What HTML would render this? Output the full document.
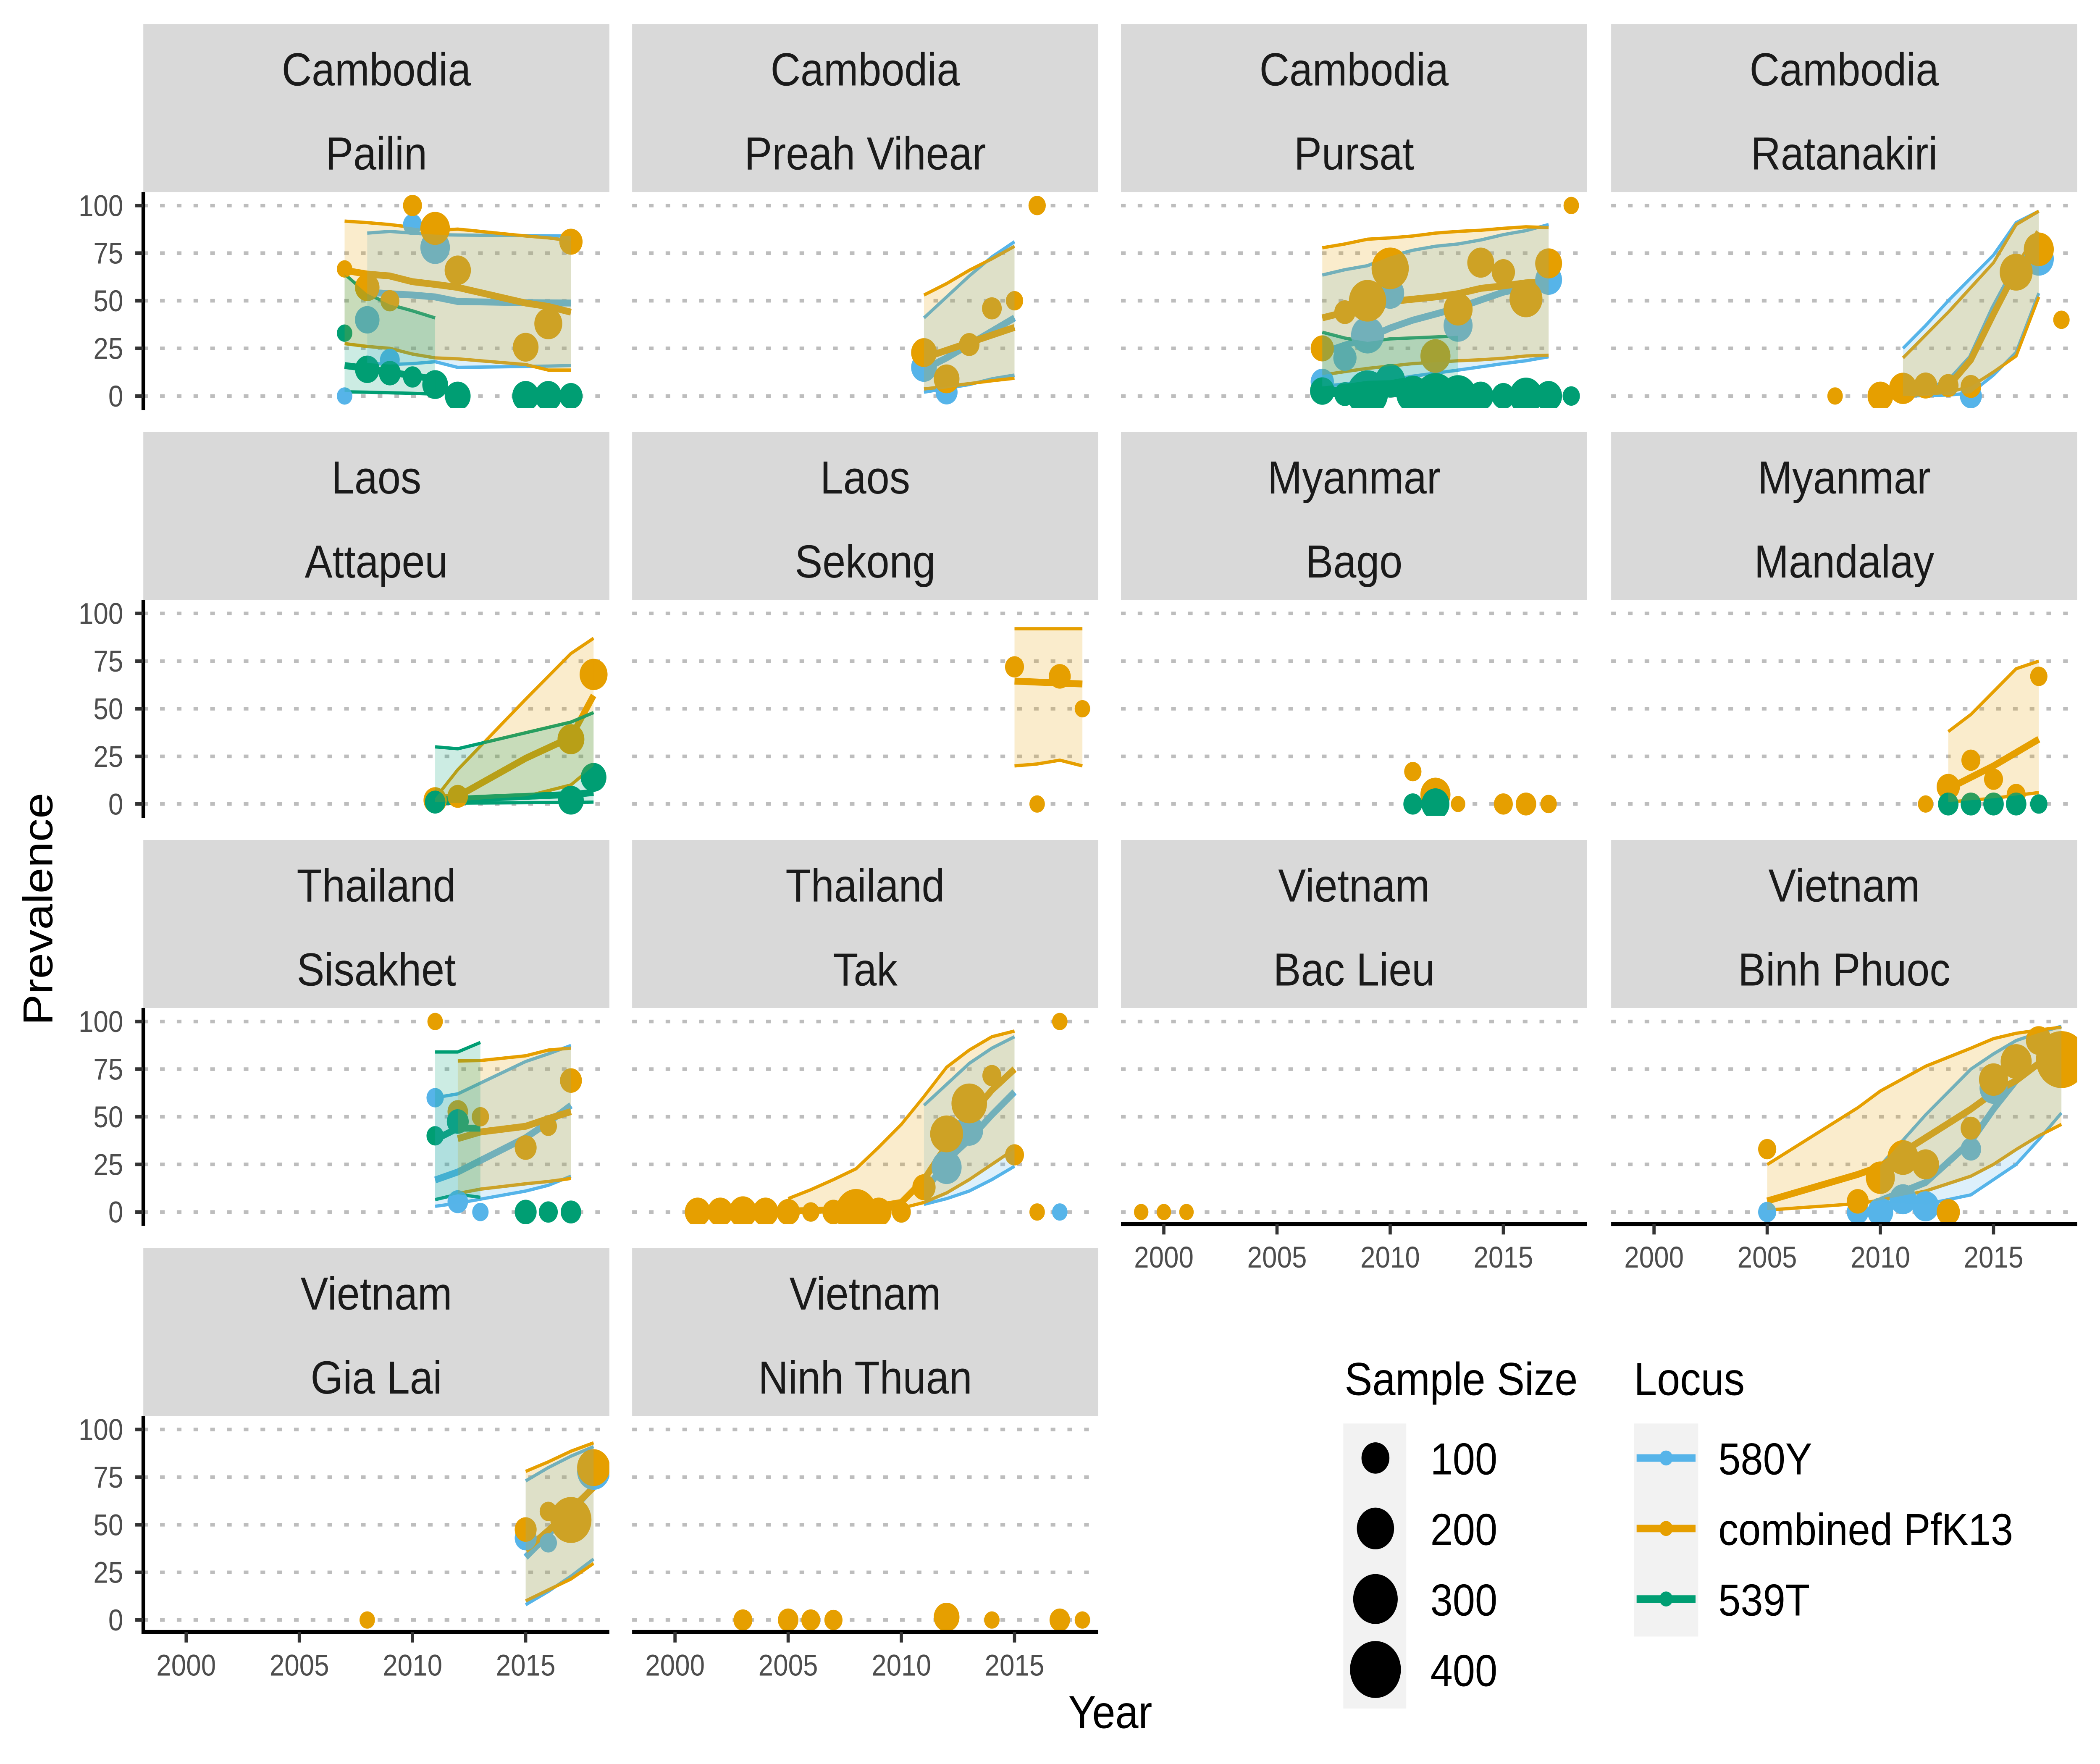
<!DOCTYPE html>
<html><head><meta charset="utf-8"><style>
html,body{margin:0;padding:0;background:#fff;width:100%;height:100%;overflow:hidden;}
svg{display:block;width:100vw;height:100vh;font-family:"Liberation Sans",Arial,sans-serif;}
</style></head><body>
<svg id="chart" viewBox="0 0 1568 1176" preserveAspectRatio="none" xmlns="http://www.w3.org/2000/svg">
<rect x="0" y="0" width="1568" height="1176" fill="#fff"/>
<g id="panels"></g>
<text transform="translate(39,606) rotate(-90)" text-anchor="middle" font-size="31" fill="#000">Prevalence</text>
<text x="829" y="1152" text-anchor="middle" font-size="31" fill="#000">Year</text>
<g id="sizeLegend">
<text x="1004" y="930" font-size="31" fill="#000">Sample Size</text>
<rect x="1003" y="949" width="47" height="190" fill="#f2f2f2"/>
</g>
<g id="locusLegend">
<text x="1220" y="930" font-size="31" fill="#000">Locus</text>
<rect x="1220" y="949" width="48" height="142" fill="#f2f2f2"/>
</g>
</svg>
<script>
// ---------- data ----------
const legendSizes = [100, 200, 300, 400];
const locusNames = ['580Y', 'combined PfK13', '539T'];
const locusCodes = ['B', 'O', 'G'];
const yTicks = [0, 25, 50, 75, 100];
const xTicks = [2000, 2005, 2010, 2015];

// Pailin
const pailinLocus = ['O','B','G','O','B','G','O','B','G','B','O','G','B','O','G','O','G','O','G','O','G','O','G'];
const pailinYear  = [2007,2007,2007,2008,2008,2008,2009,2009,2009,2010,2010,2010,2011,2011,2011,2012,2012,2015,2015,2016,2016,2017,2017];
const pailinPrev  = [66.7,0,33,57,40,14,50,19,12,90,100,10,78,88,6,66,0,25.6,0,38,0,81,0];
const pailinN     = [10,10,10,70,70,70,30,35,50,30,30,30,115,115,80,85,80,80,90,100,90,60,60];
const pailinB_year = [2008,2009,2010,2011,2012,2015,2016,2017];
const pailinB_mid = [54.5,53.7,53,52,49.6,49,48.9,48.8];
const pailinB_hi = [85.5,86.4,85.5,84.7,84.5,84.2,84.1,84];
const pailinB_lo = [17.3,16.5,17,18,15,15.5,15.7,16];
const pailinO_year = [2007,2008,2009,2010,2011,2012,2015,2016,2017];
const pailinO_mid = [66,64,63,60,58.6,57,48.8,47,44];
const pailinO_hi = [91.8,91,90,88.5,87,87.6,84,83,81.5];
const pailinO_lo = [27.5,26,25,22,20,19.5,16.5,13.6,13.6];
const pailinG_year = [2007,2008,2009,2010,2011];
const pailinG_mid = [16,14.5,12.4,10.8,8.7];
const pailinG_hi = [64,53.7,48,44.7,41];
const pailinG_lo = [2.2,2,1.7,1.4,1];

// Preah Vihear
const preahLocus = ['B','B','O','O','O','O','O','O'];
const preahYear  = [2011,2012,2011,2012,2013,2014,2015,2016];
const preahPrev  = [15,2,22.8,9,27,46,50,100];
const preahN     = [80,50,80,80,40,35,20,20];
const preahB_year = [2011,2012,2013,2014,2015];
const preahB_mid = [14,20,27,34,41];
const preahB_hi = [41,52,63,73,81];
const preahB_lo = [2,4,6,9,11];
const preahO_year = [2011,2012,2013,2014,2015];
const preahO_mid = [20,24,28,32,36];
const preahO_hi = [53,59,66,72,78.6];
const preahO_lo = [3.7,5,6.5,8,9.3];

// Pursat
const pursatLocus = ['B','B','B','B','B','B','O','O','O','O','O','O','O','O','O','O','O','G','G','G','G','G','G','G','G','G','G','G','G'];
const pursatYear  = [2007,2008,2009,2010,2013,2017,2007,2008,2009,2010,2012,2013,2014,2015,2016,2017,2018,2007,2008,2009,2010,2011,2012,2013,2014,2015,2016,2017,2018];
const pursatPrev  = [7.5,20,32,54,37,61,25,44,50,67,21,45.5,70,65,51,69.6,100,2.6,1,1.4,8,1,0,0,0,0,0,0,0];
const pursatN     = [60,60,150,100,110,90,60,45,200,200,120,110,90,60,150,90,10,70,45,250,120,150,250,200,80,60,150,90,20];
const pursatB_year = [2007,2008,2009,2010,2011,2012,2013,2014,2015,2016,2017];
const pursatB_mid = [22.6,26.7,30.4,35.7,39.8,43,46.3,50.4,54.5,57,60.2];
const pursatB_hi = [63.5,66.3,68.4,73.3,76.5,78.6,79.8,81.9,84.7,86.8,90];
const pursatB_lo = [5,6.3,8,8.3,10.4,12,13.6,15.3,17,18.5,20.6];
const pursatO_year = [2007,2008,2009,2010,2011,2012,2013,2014,2015,2016,2017];
const pursatO_mid = [41,44,46,49.6,50.8,52,53.7,56.5,57.8,59.4,60];
const pursatO_hi = [77.8,79.8,82.3,83,84,85.5,86.4,87,88,88.8,88.4];
const pursatO_lo = [11,12.8,14.5,15.7,17,17.7,18.5,19,19.8,21,21.4];
const pursatG_year = [2007,2008,2009,2010,2011,2012,2013];
const pursatG_mid = [3,2.8,2.6,2.5,2.4,2.3,2.2];
const pursatG_hi = [33.5,30.4,28.4,30,30.5,31,31.6];
const pursatG_lo = [0.3,0.3,0.3,0.3,0.3,0.3,0.3];

// Ratanakiri
const ratanLocus = ['B','B','O','O','O','O','O','O','O','O','O'];
const ratanYear  = [2014,2017,2008,2010,2011,2012,2013,2014,2016,2017,2018];
const ratanPrev  = [0,72,0,0,4,5.5,5.5,5,65,77,40];
const ratanN     = [50,120,10,80,100,60,40,40,150,120,15];
const ratanB_year = [2011,2012,2013,2014,2015,2016,2017];
const ratanB_mid = [1.5,3,7,20,46,68,82];
const ratanB_hi = [25,37,50,62,74,91,97];
const ratanB_lo = [0,0.2,0.5,1.5,11,23,54];
const ratanO_year = [2011,2012,2013,2014,2015,2016,2017];
const ratanO_mid = [1.5,3,5,19,43,66,86];
const ratanO_hi = [20,32,44,57,70,90,97];
const ratanO_lo = [0,1,2,5,12.6,21,52];

// Attapeu
const attaLocus = ['O','O','O','O','G','G','G'];
const attaYear  = [2011,2012,2017,2018,2011,2017,2018];
const attaPrev  = [2,4,34,68,1,2,14];
const attaN     = [60,40,90,100,40,80,80];
const attaO_year = [2011,2012,2015,2017,2018];
const attaO_mid = [3,4,24,35,57];
const attaO_hi = [3,18,55,79,87];
const attaO_lo = [1,1.5,4,10,20];
const attaG_year = [2011,2012,2017,2018];
const attaG_mid = [2,2.5,5,6];
const attaG_hi = [30,29,43,48];
const attaG_lo = [0.5,0.5,0.8,1];

// Sekong
const sekLocus = ['O','O','O','O'];
const sekYear  = [2015,2016,2017,2018];
const sekPrev  = [72,0,67,50];
const sekN     = [30,10,50,10];
const sekO_year = [2015,2016,2017,2018];
const sekO_mid = [64.5,64,63.5,63];
const sekO_hi = [92,92,92,92];
const sekO_lo = [20,21,23,20];

// Bago
const bagoLocus = ['O','O','O','O','O','O','G','G'];
const bagoYear  = [2011,2012,2013,2015,2016,2017,2011,2012];
const bagoPrev  = [17,5,0,0,0,0,0,0];
const bagoN     = [20,120,5,30,40,15,30,100];

// Mandalay
const mandLocus = ['O','O','O','O','O','O','G','G','G','G','G'];
const mandYear  = [2012,2013,2014,2015,2016,2017,2013,2014,2015,2016,2017];
const mandPrev  = [0,9,23,13,5,67,0,0,0,0,0];
const mandN     = [10,60,30,30,30,20,40,40,40,40,20];
const mandO_year = [2013,2014,2015,2016,2017];
const mandO_mid = [8,14,20,27,34];
const mandO_hi = [38,47,59,71,75];
const mandO_lo = [1,2,3,4.5,6];

// Sisakhet
const sisaLocus = ['B','B','B','O','O','O','O','O','O','G','G','G','G','G'];
const sisaYear  = [2011,2012,2013,2011,2012,2013,2015,2016,2017,2011,2012,2015,2016,2017];
const sisaPrev  = [60,5.4,0,100,52.7,50,33.8,45,69,40,47.5,0,0,0];
const sisaN     = [20,40,15,10,40,20,50,20,50,20,50,50,30,40];
const sisaB_year = [2011,2012,2015,2016,2017];
const sisaB_mid = [16.8,21,39,47,56];
const sisaB_hi = [60,62,79,83,87.4];
const sisaB_lo = [3,4.6,11,14,18.8];
const sisaO_year = [2012,2013,2015,2016,2017];
const sisaO_mid = [38.5,42,45,49,52.7];
const sisaO_hi = [79.3,79.5,82,85,86];
const sisaO_lo = [9.7,12,14.8,16,17.6];
const sisaG_year = [2011,2012,2013];
const sisaG_mid = [38,44,44];
const sisaG_hi = [84,84,89];
const sisaG_lo = [6.5,9.3,7.7];

// Tak
const takLocus = ['B','B','B','B','B','B','B','B','B','B','B','B','B','O','O','O','O','O','O','O','O','O','O','O','O','O','O','O','O','O'];
const takYear  = [2001,2002,2003,2004,2005,2006,2007,2008,2009,2010,2012,2013,2017,2001,2002,2003,2004,2005,2006,2007,2008,2009,2010,2011,2012,2013,2014,2015,2016,2017];
const takPrev  = [0,0,0,0,0,0,0,0,0,0,23.5,43,0,0,0,0,0,0,0,0,0,0,0,13,41,57,71.6,30,0,100];
const takN     = [60,60,60,60,60,20,50,200,60,30,120,100,10,80,80,100,80,60,20,50,250,80,30,60,150,180,30,30,10,10];
const takB_year = [2011,2012,2013,2014,2015];
const takB_mid = [10,27,38,51,63];
const takB_hi = [56,67,78,86,92];
const takB_lo = [4,7,11,17,24];
const takO_year = [2005,2006,2007,2008,2009,2010,2011,2012,2013,2014,2015];
const takO_mid = [0.5,0.8,1.2,2,3,5,17,35,50,64,75];
const takO_hi = [7,11.7,17,22.7,34,46,60.6,76,85,92,95];
const takO_lo = [0,0,0,0.5,1,2,5,10,17,25,33];

// Bac Lieu
const bacLocus = ['O','O','O'];
const bacYear  = [1999,2000,2001];
const bacPrev  = [0,0,0];
const bacN     = [5,5,5];

// Binh Phuoc
const binhLocus = ['B','B','B','B','B','B','B','O','O','O','O','O','O','O','O','O','O','O'];
const binhYear  = [2005,2009,2010,2011,2012,2014,2015,2005,2009,2010,2011,2012,2013,2014,2015,2016,2017,2018];
const binhPrev  = [0,0,0,6.7,3,33,65,33,5.6,18,28.6,25,0,44,69.5,79,90,80];
const binhN     = [25,50,80,90,90,40,100,25,50,110,130,90,60,40,110,130,80,400];
const binhB_year = [2010,2012,2014,2015,2016,2017,2018];
const binhB_mid = [6,15.5,37,54,69,78,86];
const binhB_hi = [24.4,51,75,83,90,94,97.5];
const binhB_lo = [5,4,9,17,25,38,52];
const binhO_year = [2005,2009,2010,2012,2014,2015,2016,2017,2018];
const binhO_mid = [5.8,19.7,24,39,54,62.6,69,78,84];
const binhO_hi = [24.9,54.7,63.5,76.5,86,91,93.8,95.5,97];
const binhO_lo = [1,4.4,6.2,11,18.8,25,32.8,40,46];

// Gia Lai
const giaLocus = ['B','B','B','O','O','O','O','O'];
const giaYear  = [2015,2016,2018,2008,2015,2016,2017,2018];
const giaPrev  = [43,40.5,78,0,47.5,57,52.5,80];
const giaN     = [50,20,150,10,50,20,250,150];
const giaB_year = [2015,2016,2017,2018];
const giaB_mid = [33,45,57,70];
const giaB_hi = [73,80,86,91];
const giaB_lo = [8,15,23,32];
const giaO_year = [2015,2016,2017,2018];
const giaO_mid = [36.7,47,58,69.6];
const giaO_hi = [78,83,88.6,93];
const giaO_lo = [10,15.8,21.5,29.7];

// Ninh Thuan
const ninhLocus = ['O','O','O','O','O','O','O','O'];
const ninhYear  = [2003,2005,2006,2007,2012,2014,2017,2018];
const ninhPrev  = [0,0,0,0,1.5,0,0,0];
const ninhN     = [30,40,30,25,80,10,40,10];

// ---------- layout ----------
const COLORS = {B:'#56B4E9', O:'#E69F00', G:'#009E73'};
const colLeft = [107, 472, 837, 1203];
const PW = 348;
const PX0 = 32, PXY = 16.9, PVY = 1.27;
function xScale(left, yr){ return left + PX0 + (yr - 2000) * PXY; }
function yScale(y0, v){ return y0 - v * PVY; }
function rScale(n){ return Math.sqrt(25 + 0.84 * n); }

function mkFit(year, mid, lo, hi){ return {year, mid, lo, hi}; }
const panels = [
 {c:'Cambodia', r:'Pailin', col:0, row:0, slug:'pailin', pts:[pailinLocus,pailinYear,pailinPrev,pailinN],
  fits:{B:mkFit(pailinB_year,pailinB_mid,pailinB_lo,pailinB_hi),O:mkFit(pailinO_year,pailinO_mid,pailinO_lo,pailinO_hi),G:mkFit(pailinG_year,pailinG_mid,pailinG_lo,pailinG_hi)}},
 {c:'Cambodia', r:'Preah Vihear', col:1, row:0, slug:'preah-vihear', pts:[preahLocus,preahYear,preahPrev,preahN],
  fits:{B:mkFit(preahB_year,preahB_mid,preahB_lo,preahB_hi),O:mkFit(preahO_year,preahO_mid,preahO_lo,preahO_hi)}},
 {c:'Cambodia', r:'Pursat', col:2, row:0, slug:'pursat', pts:[pursatLocus,pursatYear,pursatPrev,pursatN],
  fits:{B:mkFit(pursatB_year,pursatB_mid,pursatB_lo,pursatB_hi),O:mkFit(pursatO_year,pursatO_mid,pursatO_lo,pursatO_hi),G:mkFit(pursatG_year,pursatG_mid,pursatG_lo,pursatG_hi)}},
 {c:'Cambodia', r:'Ratanakiri', col:3, row:0, slug:'ratanakiri', pts:[ratanLocus,ratanYear,ratanPrev,ratanN],
  fits:{B:mkFit(ratanB_year,ratanB_mid,ratanB_lo,ratanB_hi),O:mkFit(ratanO_year,ratanO_mid,ratanO_lo,ratanO_hi)}},
 {c:'Laos', r:'Attapeu', col:0, row:1, slug:'attapeu', pts:[attaLocus,attaYear,attaPrev,attaN],
  fits:{O:mkFit(attaO_year,attaO_mid,attaO_lo,attaO_hi),G:mkFit(attaG_year,attaG_mid,attaG_lo,attaG_hi)}},
 {c:'Laos', r:'Sekong', col:1, row:1, slug:'sekong', pts:[sekLocus,sekYear,sekPrev,sekN],
  fits:{O:mkFit(sekO_year,sekO_mid,sekO_lo,sekO_hi)}},
 {c:'Myanmar', r:'Bago', col:2, row:1, slug:'bago', pts:[bagoLocus,bagoYear,bagoPrev,bagoN], fits:{}},
 {c:'Myanmar', r:'Mandalay', col:3, row:1, slug:'mandalay', pts:[mandLocus,mandYear,mandPrev,mandN],
  fits:{O:mkFit(mandO_year,mandO_mid,mandO_lo,mandO_hi)}},
 {c:'Thailand', r:'Sisakhet', col:0, row:2, slug:'sisakhet', pts:[sisaLocus,sisaYear,sisaPrev,sisaN],
  fits:{B:mkFit(sisaB_year,sisaB_mid,sisaB_lo,sisaB_hi),O:mkFit(sisaO_year,sisaO_mid,sisaO_lo,sisaO_hi),G:mkFit(sisaG_year,sisaG_mid,sisaG_lo,sisaG_hi)}},
 {c:'Thailand', r:'Tak', col:1, row:2, slug:'tak', pts:[takLocus,takYear,takPrev,takN],
  fits:{B:mkFit(takB_year,takB_mid,takB_lo,takB_hi),O:mkFit(takO_year,takO_mid,takO_lo,takO_hi)}},
 {c:'Vietnam', r:'Bac Lieu', col:2, row:2, slug:'bac-lieu', xaxis:true, pts:[bacLocus,bacYear,bacPrev,bacN], fits:{}},
 {c:'Vietnam', r:'Binh Phuoc', col:3, row:2, slug:'binh-phuoc', xaxis:true, pts:[binhLocus,binhYear,binhPrev,binhN],
  fits:{B:mkFit(binhB_year,binhB_mid,binhB_lo,binhB_hi),O:mkFit(binhO_year,binhO_mid,binhO_lo,binhO_hi)}},
 {c:'Vietnam', r:'Gia Lai', col:0, row:3, slug:'gia-lai', xaxis:true, pts:[giaLocus,giaYear,giaPrev,giaN],
  fits:{B:mkFit(giaB_year,giaB_mid,giaB_lo,giaB_hi),O:mkFit(giaO_year,giaO_mid,giaO_lo,giaO_hi)}},
 {c:'Vietnam', r:'Ninh Thuan', col:1, row:3, slug:'ninh-thuan', xaxis:true, pts:[ninhLocus,ninhYear,ninhPrev,ninhN], fits:{}}
];

const NS = 'http://www.w3.org/2000/svg';
function el(tag, attrs, parent){
  const e = document.createElementNS(NS, tag);
  for (const k in attrs) e.setAttribute(k, attrs[k]);
  if (parent) parent.appendChild(e);
  return e;
}
const root = document.getElementById('panels');
const svg = document.getElementById('chart');
const defs = el('defs', {}, svg);

panels.forEach((p, i) => {
  const left = colLeft[p.col];
  const stripTop = 16 + 272 * p.row;
  const stripBot = stripTop + 112;
  const y0 = 264 + 272 * p.row;
  const bottom = y0 + 8;
  const g = el('g', {}, root);
  
  

  const strip = el('rect', {x:left, y:stripTop, width:PW, height:112, fill:'#d9d9d9'}, g);
  
  
  const t1 = el('text', {x:left+PW/2, y:stripTop+41, 'text-anchor':'middle', 'font-size':31, fill:'#1a1a1a'}, g);
  t1.textContent = p.c;
  
  
  const t2 = el('text', {x:left+PW/2, y:stripTop+97, 'text-anchor':'middle', 'font-size':31, fill:'#1a1a1a'}, g);
  t2.textContent = p.r;
  
  

  yTicks.forEach(v => {
    const gl = el('line', {x1:left, x2:left+PW, y1:yScale(y0,v), y2:yScale(y0,v), stroke:'#bdbdbd', 'stroke-width':2.4, 'stroke-dasharray':'3.5 9'}, g);
    
    
  });

  const cp = el('clipPath', {id:'clip'+i}, defs);
  el('rect', {x:left, y:stripBot, width:PW, height:bottom-stripBot}, cp);
  const plot = el('g', {'clip-path':'url(#clip'+i+')'}, g);
  
  

  const pathOf = (yrs, vals) => yrs.map((yr,k)=> (k?'L':'M') + xScale(left,yr).toFixed(2) + ',' + yScale(y0,vals[k]).toFixed(2)).join(' ');

  locusCodes.forEach(code => {
    const f = p.fits[code]; if (!f) return;
    [['lo',2.2],['hi',2.2],['mid',4.6]].forEach(([key,w]) => {
      const ln = el('path', {d:pathOf(f.year, f[key]), fill:'none', stroke:COLORS[code], 'stroke-width':w, 'stroke-linejoin':'round'}, plot);
      
      
    });
  });

  const [L, Yr, Pv, N] = p.pts;
  locusCodes.forEach(code => {
    for (let k = 0; k < L.length; k++) {
      if (L[k] !== code) continue;
      const c = el('circle', {cx:xScale(left,Yr[k]), cy:yScale(y0,Pv[k]), r:rScale(N[k]), fill:COLORS[code]}, plot);
      
      
    }
  });

  locusCodes.forEach(code => {
    const f = p.fits[code]; if (!f) return;
    const up = f.year.map((yr,k)=> xScale(left,yr).toFixed(2)+','+yScale(y0,f.hi[k]).toFixed(2));
    const dn = f.year.map((yr,k)=> xScale(left,yr).toFixed(2)+','+yScale(y0,f.lo[k]).toFixed(2)).reverse();
    const rb = el('polygon', {points: up.concat(dn).join(' '), fill:COLORS[code], 'fill-opacity':0.2}, plot);
    
    
  });

  if (p.col === 0) {
    const ax = el('line', {x1:left, x2:left, y1:stripBot, y2:bottom+1.3, stroke:'#000', 'stroke-width':2.7}, g);
    
    
    yTicks.forEach(v => {
      const tk = el('line', {x1:left-6, x2:left, y1:yScale(y0,v), y2:yScale(y0,v), stroke:'#333', 'stroke-width':2.4}, g);
      
      
      const tl = el('text', {x:left-15, y:yScale(y0,v)+7, 'text-anchor':'end', 'font-size':20, fill:'#4d4d4d'}, g);
      tl.textContent = v;
      
      
    });
  }
  if (p.xaxis) {
    const ax = el('line', {x1:left, x2:left+PW, y1:bottom, y2:bottom, stroke:'#000', 'stroke-width':2.7}, g);
    
    
    xTicks.forEach(yr => {
      const tk = el('line', {x1:xScale(left,yr), x2:xScale(left,yr), y1:bottom, y2:bottom+7, stroke:'#333', 'stroke-width':2.4}, g);
      
      
      const tl = el('text', {x:xScale(left,yr), y:y0+37, 'text-anchor':'middle', 'font-size':20, fill:'#4d4d4d'}, g);
      tl.textContent = yr;
      
      
    });
  }
});

const sl = document.getElementById('sizeLegend');
legendSizes.forEach((n, k) => {
  const cy = 972 + k * 47;
  const c = el('circle', {cx:1027, cy:cy, r:rScale(n), fill:'#000'}, sl);
  
  
  const t = el('text', {x:1068, y:cy+11, 'font-size':30, fill:'#000'}, sl);
  t.textContent = n;
  
  
});
const ll = document.getElementById('locusLegend');
locusCodes.forEach((code, k) => {
  const cy = 972 + k * 47;
  const ln = el('line', {x1:1222, x2:1266, y1:cy, y2:cy, stroke:COLORS[code], 'stroke-width':5}, ll);
  
  
  const c = el('circle', {cx:1244, cy:cy, r:5, fill:COLORS[code]}, ll);
  
  
  const t = el('text', {x:1283, y:cy+11, 'font-size':30, fill:'#000'}, ll);
  t.textContent = locusNames[k];
  
  
});
</script>
</body></html>
